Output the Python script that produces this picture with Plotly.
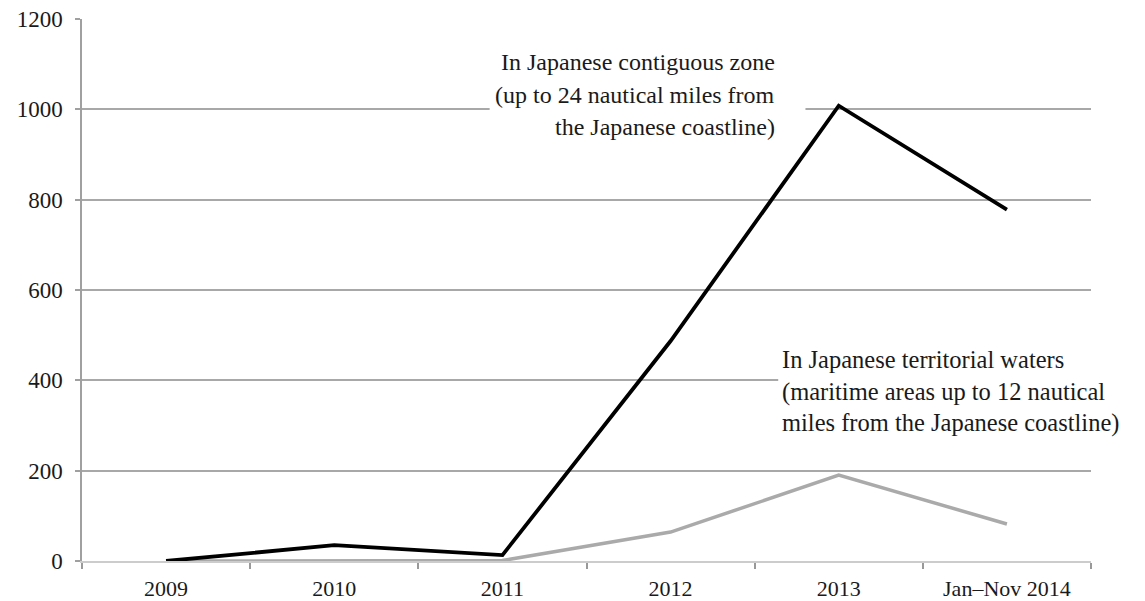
import plotly.graph_objects as go

categories = ["2009", "2010", "2011", "2012", "2013", "Jan\u2013Nov 2014"]
contiguous_zone = [0, 35, 13, 487, 1008, 778]
territorial_waters = [0, 0, 1, 64, 190, 82]
y_ticks = [0, 200, 400, 600, 800, 1000, 1200]

label_contiguous = ["In Japanese contiguous zone",
                    "(up to 24 nautical miles from",
                    "the Japanese coastline)"]
label_territorial = ["In Japanese territorial waters",
                     "(maritime areas up to 12 nautical",
                     "miles from the Japanese coastline)"]

FONT = "Liberation Serif"
TXT = "#1a1a1a"

fig = go.Figure()
fig.add_trace(go.Scatter(x=categories, y=territorial_waters, mode="lines",
                         line=dict(color="#aaaaaa", width=3.5),
                         hoverinfo="skip", showlegend=False))
fig.add_trace(go.Scatter(x=categories, y=contiguous_zone, mode="lines",
                         line=dict(color="#000000", width=3.8),
                         hoverinfo="skip", showlegend=False))

# white boxes behind annotation text, covering gridlines
fig.add_shape(type="rect", xref="paper", yref="paper",
              x0=0.404, x1=0.717, y0=0.777, y1=0.961,
              fillcolor="white", line=dict(width=0), layer="above")
fig.add_shape(type="rect", xref="paper", yref="paper",
              x0=0.690, x1=1.06, y0=0.223, y1=0.408,
              fillcolor="white", line=dict(width=0), layer="above")

for txt, py in zip(label_contiguous, [0.921, 0.860, 0.801]):
    fig.add_annotation(text=txt, xref="paper", yref="paper", x=0.689, y=py,
                       xanchor="right", yanchor="middle", showarrow=False,
                       font=dict(family=FONT, size=24, color=TXT))
for txt, py in zip(label_territorial, [0.371, 0.312, 0.255]):
    fig.add_annotation(text=txt, xref="paper", yref="paper", x=0.692, y=py,
                       xanchor="left", yanchor="middle", showarrow=False,
                       font=dict(family=FONT, size=24.5, color=TXT))

fig.update_layout(
    width=1145, height=601,
    margin=dict(l=82, r=54, t=19, b=40),
    paper_bgcolor="white", plot_bgcolor="white",
    font=dict(family=FONT, size=21, color=TXT),
    showlegend=False,
)
fig.update_xaxes(type="category", categoryorder="array", categoryarray=categories,
                 range=[-0.5, len(categories) - 0.5], automargin=False,
                 showline=True, linecolor="#cccccc", linewidth=2,
                 ticks="outside", tickson="boundaries", ticklen=6,
                 tickcolor="#999999", tickwidth=1.5, ticklabelstandoff=7,
                 showgrid=False, zeroline=False,
                 tickfont=dict(family=FONT, size=22, color=TXT))
fig.update_yaxes(range=[0, 1200], tickvals=y_ticks, automargin=False,
                 showline=True, linecolor="#a0a0a0", linewidth=1.5,
                 ticks="outside", ticklen=5, tickcolor="#a0a0a0", tickwidth=1.5,
                 ticklabelstandoff=8,
                 showgrid=True, gridcolor="#a8a8a8", gridwidth=1.5,
                 zeroline=False,
                 tickfont=dict(family=FONT, size=23, color=TXT))

fig.write_html("out.html",
               config={"displayModeBar": False},
               post_script="document.body.style.margin='0';"
                           "document.body.style.padding='0';"
                           "document.body.style.overflow='hidden';")
